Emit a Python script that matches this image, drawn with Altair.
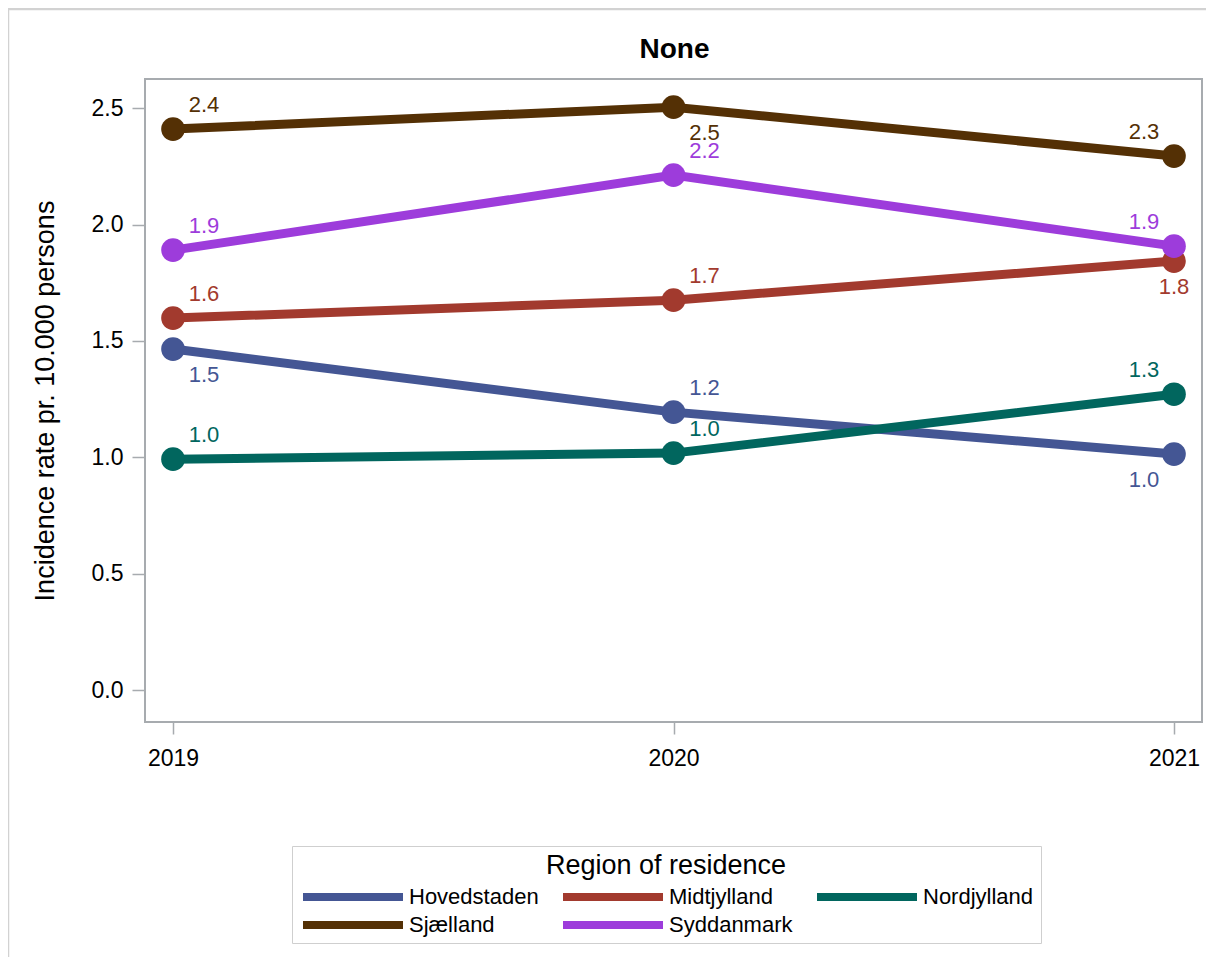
import altair as alt
import pandas as pd

# ---- data ----
years = [2019, 2020, 2021]
regions = ["Hovedstaden", "Midtjylland", "Nordjylland", "Sjælland", "Syddanmark"]
hovedstaden = [1.465, 1.194, 1.014]
midtjylland = [1.598, 1.675, 1.843]
nordjylland = [0.992, 1.018, 1.271]
sjaelland = [2.410, 2.504, 2.294]
syddanmark = [1.890, 2.212, 1.907]
y_ticks = [0.0, 0.5, 1.0, 1.5, 2.0, 2.5]

colors = ["#445694", "#A23A2E", "#01665E", "#543005", "#9D3CDB"]

# label placement per point (layout only): r/l/c = right/left/centre, a/b = above/below
label_place = {
    "Hovedstaden": ["rb", "ra", "lb"],
    "Midtjylland": ["ra", "ra", "cb"],
    "Nordjylland": ["ra", "ra", "la"],
    "Sjælland": ["ra", "rb", "la"],
    "Syddanmark": ["ra", "ra", "la"],
}
offsets = {"ra": (31, -24), "rb": (31, 26), "la": (-30, -24), "lb": (-30, 26), "cb": (0, 26)}

series = [hovedstaden, midtjylland, nordjylland, sjaelland, syddanmark]
rows = []
for reg, vals in zip(regions, series):
    for i, (yr, v) in enumerate(zip(years, vals)):
        rows.append({"region": reg, "year": yr, "rate": v, "place": label_place[reg][i]})
df = pd.DataFrame(rows)

FONT = "Liberation Sans, Arial, Helvetica, sans-serif"
GRAY = "#a7abaf"

W, H = 1057, 643

xenc = alt.X("year:O",
             scale=alt.Scale(type="point", padding=0.056),
             axis=alt.Axis(title=None, grid=False, domain=False, labelAngle=0,
                           tickSize=12, labelPadding=13, labelFontSize=23))
yenc = alt.Y("rate:Q",
             scale=alt.Scale(domain=[-0.137, 2.625], nice=False, zero=False),
             axis=alt.Axis(values=y_ticks, format=".1f", grid=False, domain=False,
                           tickSize=13, labelPadding=9, labelFontSize=23,
                           title="Incidence rate pr. 10.000 persons",
                           titleFontSize=27, titleFontWeight="normal",
                           titleX=-100, titleY=H / 2, titleAngle=270,
                           titleAlign="center", titleBaseline="middle"))

legend = alt.Legend(title="Region of residence", orient="none", legendX=147, legendY=767,
                    direction="horizontal", columns=3, gridAlign="each",
                    symbolType="stroke", symbolSize=10000, symbolStrokeWidth=8, symbolOpacity=1,
                    clipHeight=22,
                    labelFont=FONT, labelFontSize=22, labelColor="black", labelOffset=2,
                    labelLimit=400,
                    titleFont=FONT, titleFontSize=27, titleFontWeight="normal", titleColor="black",
                    titleAnchor="middle", titlePadding=6, titleLimit=600,
                    strokeColor="#cfcfcf", padding=7, rowPadding=6, columnPadding=20)

cenc = alt.Color("region:N", scale=alt.Scale(domain=regions, range=colors), legend=legend)

base = alt.Chart(df)

lines = base.mark_line(strokeWidth=9).encode(x=xenc, y=yenc, color=cenc, detail="region:N")
points = base.mark_point(filled=True, size=560, opacity=1).encode(x=xenc, y=yenc, color=cenc)

text_layers = []
for key, (ddx, ddy) in offsets.items():
    text_layers.append(
        base.transform_filter(alt.datum.place == key)
        .mark_text(dx=ddx, dy=ddy, align="center", baseline="middle", fontSize=22, font=FONT)
        .encode(x=xenc, y=yenc, color=cenc, text=alt.Text("rate:Q", format=".1f"))
    )

one = pd.DataFrame({"k": [0]})
border_top = alt.Chart(one).mark_rule(color="#d2d2d2", strokeWidth=2.5).encode(
    x=alt.value(-137), x2=alt.value(W + 10), y=alt.value(-70))
border_left = alt.Chart(one).mark_rule(color="#d2d2d2", strokeWidth=2.5).encode(
    x=alt.value(-137), y=alt.value(-70), y2=alt.value(H + 240))
title_text = alt.Chart(one).mark_text(
    text="None", fontSize=28, fontWeight="bold", font=FONT, color="black",
    align="center", baseline="alphabetic"
).encode(x=alt.value(W / 2 + 1), y=alt.value(-21))

chart = alt.layer(border_top, border_left, title_text, lines, points, *text_layers).properties(
    width=W, height=H,
    autosize=alt.AutoSizeParams(type="none"),
    padding={"left": 137, "top": 71, "right": 4, "bottom": 235},
).configure_view(
    stroke=GRAY, strokeWidth=2
).configure_axis(
    labelFont=FONT, titleFont=FONT, labelColor="black", titleColor="black",
    tickColor=GRAY, tickWidth=1.5
)

chart.save("out.html", embed_options={"renderer": "svg", "actions": False})
